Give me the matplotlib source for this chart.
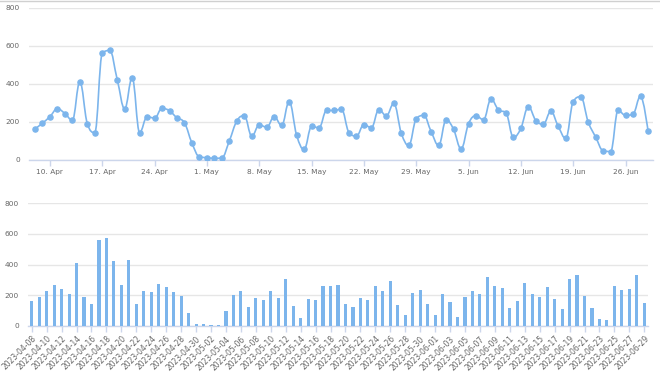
import numpy as np
import pandas as pd
import matplotlib
matplotlib.use("Agg")
import matplotlib.pyplot as plt
import matplotlib.dates as mdates
from matplotlib.path import Path
from matplotlib.patches import PathPatch
from matplotlib.lines import Line2D

# ---- data ----
dates = pd.date_range("2023-04-08", "2023-06-29", freq="D")
values_apr = [161, 191, 226, 267, 242, 207, 409, 189, 142, 558, 574, 421, 267, 430,
              142, 225, 218, 270, 256, 219, 193, 86, 14]
values_may = [10, 6, 9, 98, 203, 230, 123, 182, 170, 225, 179, 305, 128, 53, 174, 167,
              258, 258, 265, 142, 123, 184, 167, 263, 230, 295, 139, 74, 214, 232, 146]
values_jun = [74, 209, 158, 56, 189, 230, 209, 318, 261, 246, 116, 165, 277, 205, 186,
              253, 174, 111, 305, 330, 198, 118, 46, 42, 258, 232, 239, 333, 151]
values = values_apr + values_may + values_jun
bar_labels = [d.strftime("%Y-%m-%d") for d in dates]
y_ticks = [0, 200, 400, 600, 800]

LINE = "#7cb5ec"
GRID = "#e6e6e6"
AXIS = "#ccd6eb"
TXT = "#666666"

plt.rcParams["font.family"] = ["DejaVu Sans"]

fig = plt.figure(figsize=(6.6, 3.76), dpi=100)
W, H = 660, 376


def axes_px(x0, x1, ytop, ybot):
    return fig.add_axes([x0 / W, 1 - ybot / H, (x1 - x0) / W, (ybot - ytop) / H])


def spline_path(xs, ys, smoothing=1.5):
    n = len(xs)
    denom = smoothing + 1
    lc = [(xs[i], ys[i]) for i in range(n)]
    rc = [(xs[i], ys[i]) for i in range(n)]
    for i in range(1, n - 1):
        px, py = xs[i], ys[i]
        lx, ly = xs[i - 1], ys[i - 1]
        nx, ny = xs[i + 1], ys[i + 1]
        lcx = (smoothing * px + lx) / denom
        lcy = (smoothing * py + ly) / denom
        rcx = (smoothing * px + nx) / denom
        rcy = (smoothing * py + ny) / denom
        corr = 0
        if rcx != lcx:
            corr = ((rcy - lcy) * (rcx - px)) / (rcx - lcx) + py - rcy
        lcy += corr
        rcy += corr
        if lcy > ly and lcy > py:
            lcy = max(ly, py); rcy = 2 * py - lcy
        elif lcy < ly and lcy < py:
            lcy = min(ly, py); rcy = 2 * py - lcy
        if rcy > ny and rcy > py:
            rcy = max(ny, py); lcy = 2 * py - rcy
        elif rcy < ny and rcy < py:
            rcy = min(ny, py); lcy = 2 * py - rcy
        lc[i] = (lcx, lcy)
        rc[i] = (rcx, rcy)
    verts = [(xs[0], ys[0])]
    codes = [Path.MOVETO]
    for i in range(1, n):
        verts += [rc[i - 1], lc[i], (xs[i], ys[i])]
        codes += [Path.CURVE4] * 3
    return Path(verts, codes)


def style(ax):
    for s in ["top", "right", "left"]:
        ax.spines[s].set_visible(False)
    ax.spines["bottom"].set_color(AXIS)
    ax.spines["bottom"].set_linewidth(1)
    ax.set_ylim(0, 800)
    ax.set_yticks(y_ticks)
    ax.grid(axis="y", color=GRID, linewidth=1)
    ax.set_axisbelow(True)
    ax.tick_params(axis="y", length=0, pad=6.5, labelsize=5.3, labelcolor=TXT)
    ax.tick_params(axis="x", length=4, width=1, color=AXIS, labelcolor=TXT)


# ---- top: spline line chart ----
ax1 = axes_px(29, 653, 7.5, 159.5)
xn = mdates.date2num(dates.to_pydatetime())
ax1.add_patch(PathPatch(spline_path(list(xn), values), facecolor="none",
                        edgecolor=LINE, linewidth=1.2, zorder=3))
ax1.plot(xn, values, linestyle="none", marker="o", markersize=3.7,
         color=LINE, zorder=4)
ax1.set_xlim(xn[0] - 0.8, xn[-1] + 0.67)
style(ax1)
ax1.xaxis.set_major_locator(mdates.WeekdayLocator(byweekday=mdates.MO))
ax1.xaxis.set_major_formatter(mdates.DateFormatter("%-d. %b"))
ax1.tick_params(axis="x", labelsize=5.3, pad=3)

# ---- bottom: bar chart ----
ax2 = axes_px(28, 648, 203, 326)
idx = np.arange(len(values))
ax2.bar(idx, values, width=0.42, color=LINE, zorder=3)
ax2.set_xlim(-0.5, len(values) - 0.5)
style(ax2)
ax2.set_xticks(idx[::2])
ax2.set_xticklabels(bar_labels[::2], rotation=45, ha="right",
                    rotation_mode="anchor", fontsize=5.5)
ax2.tick_params(axis="x", pad=2)

fig.add_artist(Line2D([0, 1], [1 - 1.0 / H, 1 - 1.0 / H], color="#d0d0d0",
                      linewidth=1, transform=fig.transFigure))

fig.savefig("out.png", dpi=100, facecolor="white")
